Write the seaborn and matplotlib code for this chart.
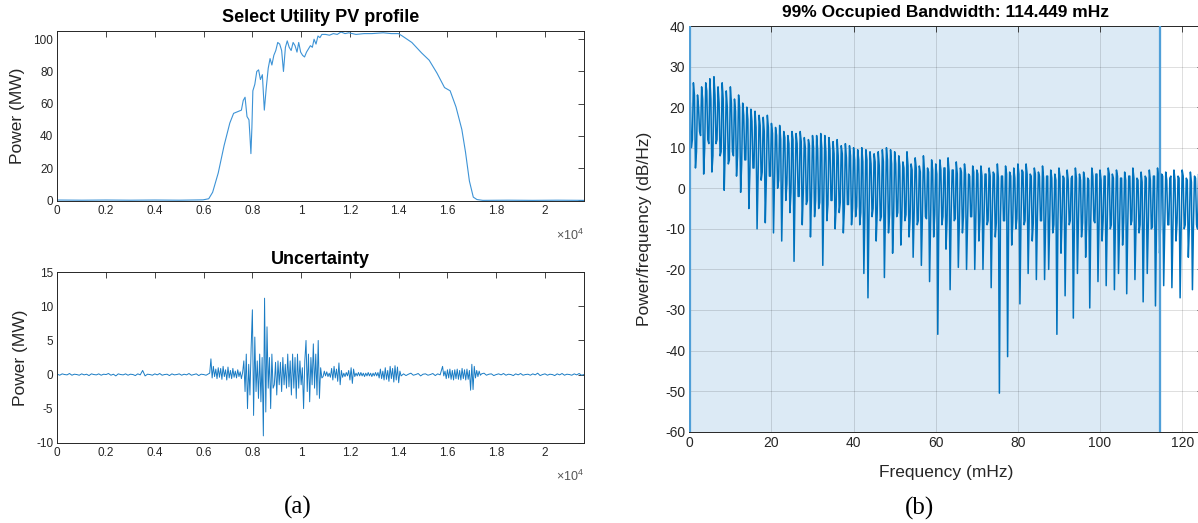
import numpy as np
import pandas as pd
import matplotlib
matplotlib.use("Agg")
import matplotlib.pyplot as plt
import seaborn as sns
from matplotlib.ticker import FuncFormatter

# ---------------- data ----------------
# Utility PV output (sample index, MW)
pv_sample = [0, 1000, 2000, 3000, 4000, 5000,
             5975, 6210, 6370, 6600, 6840,
             7075, 7230, 7390, 7550, 7625,
             7700, 7780, 7860, 7900, 7940,
             7980, 8020, 8100, 8180, 8255,
             8330, 8410, 8490, 8570, 8650,
             8725, 8800, 8880, 8960, 9040,
             9120, 9200, 9275, 9355, 9430,
             9510, 9590, 9670, 9750, 9830,
             9900, 9980, 10060, 10140, 10220,
             10300, 10380, 10460, 10530, 10610,
             10690, 10770, 10850, 11000, 11160,
             11320, 11480, 11635, 11800, 11950,
             12250, 12580, 12900, 13365, 13700,
             13990, 14150, 14540, 14940, 15250,
             15570, 15880, 16110, 16350, 16590,
             16740, 16900, 17060, 17210, 17450,
             18500, 19500, 20500, 21600]
pv_mw = [0.2, 0.1, 0.2, 0.1, 0.2, 0.1,
         0.3, 1, 5, 17, 34,
         48, 54, 55, 56, 62,
         64, 52, 50, 40, 29,
         45, 68, 72, 80, 81,
         75, 78, 56, 70, 82,
         88, 84, 90, 93, 98,
         97, 93, 80, 95, 99,
         95, 93, 98, 96, 92,
         98, 92, 90, 89, 92,
         94, 96, 95, 100, 97,
         102, 101, 103, 103, 102.5,
         103.5, 103, 104.5, 103.5, 104,
         103, 103.5, 103.5, 104, 103.5,
         103.5, 102, 98, 91.5, 87,
         79, 70, 68, 58, 44,
         30, 12, 2, 0.5, 0,
         0.1, 0, 0.1, 0]

# Forecast uncertainty, stored as evenly spaced segments (first sample, spacing, MW values)
unc_night_am = (0, 100, [0.05, -0.1, 0.1, 0.0, -0.05, 0.15, -0.1, 0.05, 0.0, -0.1,
                         0.1, -0.05, 0.05, -0.15, 0.1, 0.0, -0.05, 0.1, -0.1, 0.05,
                         0.0, 0.15, -0.1, 0.05, -0.2, 0.1, 0.0, -0.05, 0.1, -0.1,
                         0.05, 0.0, -0.15, 0.1, -0.05, 0.6, -0.2, 0.05, 0.0, -0.1,
                         0.1, -0.05, 0.15, -0.1, 0.0, 0.05, -0.15, 0.1, -0.05, 0.0,
                         0.1, -0.1, 0.05, -0.05, 0.15, -0.1, 0.0, 0.1, -0.15, 0.05,
                         0.0, -0.1, 0.1])
unc_morning = (6250, 50, [0.2, 2.3, -0.5, 1.2, -0.3, 0.8, -0.6, 1.0, -0.4, 0.9,
                          -0.7, 1.2, -0.3, 0.7, -0.8, 1.1, -0.5, 0.6, -0.6, 0.9,
                          -0.4, 0.5, -0.5, 0.7, -0.3, 0.4, -0.6, 0.3, 2.0, -2.5,
                          3.0, -5.0, 1.5, -3.0, 4.0, 9.5, -6.0, 5.5, -2.5, 2.0,
                          -3.5, 3.0, -4.0, 2.5, -9.0, 11.2, -5.5, 7.0, -2.0, 2.5,
                          -5.0, 3.0, -2.0, -1.5, 1.8, -3.0, 2.0, -1.5, 1.8, -2.5,
                          2.5, -1.5, 1.5, -2.0, 3.0, -1.8, 2.0, -3.0, 3.0, -2.0,
                          2.5, -3.5, 3.0, -2.0, 2.0, -1.5, 1.0, -5.0, 2.0, 5.0,
                          -2.5, 3.0, -4.0, 2.5, -1.5, 4.5, -2.0, 3.0, -3.0, 5.0,
                          -3.5, 1.0, -0.5])
unc_midday = (10900, 50, [-0.3, 0.5, -0.2, 0.4, -0.3, 0.2, -0.4, 0.9, -0.8, 1.2,
                          -0.5, 0.8, -1.0, 1.7, -1.5, 0.6, -0.4, 0.2, -0.3, 0.3,
                          -0.2, 0.6, -0.8, 1.0, -1.3, 0.8, -0.3, 0.2, -0.2, 0.3,
                          -0.2, 0.3, -0.2, 0.2, -0.3, 0.2, -0.2, 0.3, -0.2, 0.2,
                          -0.3, 0.2, -0.2, 0.3, -0.2, 0.3, -0.5, 0.8, -0.6, 0.5,
                          -0.8, 1.0, -0.7, 0.6, -1.0, 1.2, -0.6, 0.9, -1.1, 1.3,
                          -0.8, 1.1, -1.2, 0.5, -0.2])
unc_afternoon = (14200, 100, [0.1, -0.15, 0.05, 0.2, -0.1, 0.0, 0.15, -0.2, 0.05, 0.1,
                              -0.1, 0.0, 0.15, -0.15, 0.1, -0.05])
unc_evening = (15800, 50, [1.2, -0.2, 0.5, -0.6, 0.7, -0.5, 0.8, -0.7, 0.6, -0.8,
                           0.7, -0.6, 0.8, -0.7, 0.6, -0.8, 0.9, -0.6, 0.7, -0.8,
                           0.8, -0.7, 0.6, -2.3, 1.5, -2.2, 1.2, -0.5, 0.6, -0.3,
                           0.5, -0.1, 0.1])
unc_night_pm = (17500, 100, [0.2, -0.1, 0.05, 0.1, -0.15, 0.0, 0.1, -0.05, 0.15, -0.1,
                             0.05, 0.0, -0.15, 0.1, -0.05, 0.15, -0.1, 0.0, 0.05, -0.1,
                             0.1, -0.05, 0.2, -0.15, 0.0, 0.1, -0.1, 0.05, 0.0, -0.15,
                             0.1, -0.05, 0.15, -0.1, 0.05, 0.0, -0.1, 0.1, -0.05, 0.15,
                             -0.1, 0.0])

# Power spectral density (dB/Hz), four readings per mHz:
# peak at f, upper shoulder at f+0.25, trough at f+0.5, lower shoulder at f+0.75
psd_peak_db = [24, 26, 23, 25, 26, 27, 27.5, 25, 26, 24, 25,
               22, 23, 21, 20, 19.5, 19, 18, 17.5, 18, 16,
               15, 15.5, 14, 13, 14, 13.5, 14, 12.5, 12, 13,
               13, 13.5, 13, 12.5, 11.5, 12, 10.5, 11, 10.5, 10,
               9.5, 10, 9.5, 9, 8.5, 9, 9.5, 10, 9.5, 9,
               8, 6.5, 9, 6, 7.5, 5.5, 8, 5, 7, 6,
               7, 5, 7.5, 4.5, 6.5, 5, 6, 3.5, 5.5, 4.5,
               5.5, 3.5, 5, 4, 6, 3, 5.5, 4, 5, 6,
               4.5, 6, 3.5, 5, 4, 5.5, 3, 4.5, 3.5, 5,
               3, 4.5, 2.5, 5, 3.5, 4, 2.5, 5, 3.5, 4.5,
               3, 5, 3.5, 4.5, 2.5, 4, 3, 5, 2.5, 4,
               3, 4.5, 3, 5, 3.5, 4, 2.5, 4.5, 3, 4.5,
               2.5, 4, 3, 3.5, 2]
psd_upper_db = [21, 23, 20, 22, 24, 22, 23, 21, 22, 20, 21,
                19, 20, 18, 17, 16.5, 15, 15.5, 14, 15, 13.5,
                13, 12, 12.5, 11, 12, 11, 11.5, 10, 10.5, 10,
                9.5, 10, 9, 9.5, 8.5, 8, 8.5, 7.5, 8, 7,
                7, 6.5, 7, 6, 6.5, 5.5, 6.5, 7, 6, 6,
                5.5, 5, 5.5, 4.5, 5, 4, 4.5, 4, 4.5, 3.5,
                4.5, 5, 4, 4.5, 3.5, 4, 3.5, 3, 4, 3.5,
                3, 3.5, 3, 3.5, 2.5, 3, 3.5, 3, 2.5, 3.5,
                4, 3.5, 3, 3.5, 3, 2.5, 3, 2.5, 2, 3,
                2.5, 2, 3, 2.5, 2, 2.5, 2, 3, 3.5, 2,
                3, 3.5, 2.5, 3, 2.5, 2, 3, 2.5, 2, 1.5,
                2.5, 2, 3, 2.5, 3, 2, 3, 2, 2.5, 3,
                2, 1.5, 2.5, 2, 1.5]
psd_trough_db = [10, 5, 14, 3.5, 12, 4, 11, 8, -0.5, 6, 9,
                 3, -1, 7, -5, 5, -10, 2, -8.5, 3, -11,
                 0, -13, -3, -6, -18, -2, -9, -4, -12, -7,
                 -5, -19, -8, -3, -10, -6, -11, -4, -9, -7,
                 -9, -21, -27, -7, -13, -8, -22, -11, -16, -7,
                 -14, -8, -12, -17, -9, -19, -7, -23, -12, -36,
                 -9, -15, -25, -8, -19.5, -11, -20, -7, -20, -13,
                 -20, -9, -24.5, -12, -50.5, -8, -41.5, -14, -10, -28.5,
                 -9, -21, -13, -22.5, -8, -22.5, -20, -11, -36, -16,
                 -26.5, -9, -32, -21, -12, -17, -29.5, -8, -23, -13,
                 -24, -10, -25, -21, -14, -26, -9, -22.5, -11, -28,
                 -21, -10, -29, -16, -24, -9, -24.5, -13, -27, -10,
                 -17, -25, -9, -14, -12]
psd_lower_db = [12, 9, 13, 10, 11, 8, 12, 9, 10, 7, 8,
                8, 6, 7, 4, 5, 3, 4, 2, 3, 1.5,
                2, 0, 1, -1, 0, -2, -1, -3, -2, -3,
                -3.5, -2, -4, -3, -4.5, -3.5, -5, -4, -5, -4.5,
                -6, -5, -6.5, -5, -6, -7, -5.5, -6.5, -7, -6,
                -7, -6.5, -7.5, -6, -8, -7, -7.5, -8, -6.5, -7.5,
                -7, -8, -6.5, -7.5, -8, -7, -8.5, -7, -7.5, -8,
                -7.5, -8, -7, -8.5, -7.5, -8, -7, -8.5, -7.5, -8,
                -8, -7.5, -8.5, -7, -8, -8.5, -7.5, -9, -8, -7.5,
                -8.5, -8, -9, -7.5, -8.5, -9, -8, -8.5, -9, -8,
                -8.5, -9, -8, -9.5, -8.5, -9, -8, -9.5, -9, -8.5,
                -9, -9.5, -8.5, -9, -10, -9, -9.5, -8.5, -10, -9,
                -9.5, -9, -10, -9.5, -9]

obw_low_mhz = 0.25
obw_width_mhz = 114.449

# ---------------- assemble tables ----------------
pv_df = pd.DataFrame({"sample": pv_sample, "MW": pv_mw})

unc_parts = []
for start, step, vals in (unc_night_am, unc_morning, unc_midday,
                          unc_afternoon, unc_evening, unc_night_pm):
    unc_parts.append(pd.DataFrame({"sample": start + step * np.arange(len(vals)),
                                   "MW": vals}))
unc_df = pd.concat(unc_parts, ignore_index=True)

bins = np.arange(len(psd_peak_db))
psd_parts = []
for offset, vals in ((0.0, psd_peak_db), (0.25, psd_upper_db),
                     (0.5, psd_trough_db), (0.75, psd_lower_db)):
    psd_parts.append(pd.DataFrame({"mHz": bins + offset, "dB": vals}))
psd_df = pd.concat(psd_parts, ignore_index=True).sort_values("mHz")

# ---------------- style ----------------
sns.set_theme(style="white")
plt.rcParams["font.family"] = ["Liberation Sans", "DejaVu Sans"]
plt.rcParams["axes.unicode_minus"] = False
plt.rcParams["mathtext.fontset"] = "custom"
plt.rcParams["mathtext.rm"] = "Liberation Sans"
plt.rcParams["mathtext.it"] = "Liberation Sans"

W, H = 1198, 523
fig = plt.figure(figsize=(W / 100, H / 100), dpi=100)

def box(left, top, right, bottom):
    return [left / W, 1 - bottom / H, (right - left) / W, (bottom - top) / H]

INK = "#262626"
MLBLUE = "#0072BD"

def matlab_axes(ax, labelsize):
    for s in ax.spines.values():
        s.set_visible(True)
        s.set_color(INK)
        s.set_linewidth(0.7)
    ax.tick_params(direction="in", top=True, right=True, length=4, width=0.6,
                   color=INK, labelcolor=INK, labelsize=labelsize, pad=3)
    ax.set_xlabel("")
    ax.set_ylabel("")

# --- (a) top: PV profile ---
ax1 = fig.add_axes(box(57.3, 30.7, 584, 201))
sns.lineplot(data=pv_df, x="sample", y="MW", ax=ax1, color="#3d93d6",
             linewidth=0.8, estimator=None)
ax1.set_xlim(0, 21600)
ax1.set_ylim(-0.4, 105.3)
ax1.set_yticks(np.arange(0, 101, 20))

# --- (a) bottom: uncertainty ---
ax2 = fig.add_axes(box(57.3, 272.3, 584, 442.7))
sns.lineplot(data=unc_df, x="sample", y="MW", ax=ax2, color="#1a7cc4",
             linewidth=0.7, estimator=None)
ax2.set_xlim(0, 21600)
ax2.set_ylim(-10, 15)
ax2.set_yticks(np.arange(-10, 16, 5))

sci = FuncFormatter(lambda v, p: f"{v / 1e4:g}")
for ax in (ax1, ax2):
    ax.set_xticks(np.arange(0, 20001, 2000))
    ax.xaxis.set_major_formatter(sci)
    matlab_axes(ax, 8.5)
    ax.text(1.0, -0.2, r"$\times\mathregular{10^{4}}$", transform=ax.transAxes,
            ha="right", va="center", fontsize=9, color="#555555")

fig.text(320.6 / W, 1 - 17 / H, "Select Utility PV profile", ha="center",
         va="center", fontsize=13, fontweight="bold", color="black")
fig.text(320.6 / W, 1 - 259.5 / H, "Uncertainty", ha="center",
         va="center", fontsize=13, fontweight="bold", color="black")
fig.text(18 / W, 1 - 116 / H, "Power (MW)", rotation=90, ha="center",
         va="center", fontsize=12.5, color=INK)
fig.text(21 / W, 1 - 357.5 / H, "Power (MW)", rotation=90, ha="center",
         va="center", fontsize=12.5, color=INK)

# --- (b) PSD with occupied bandwidth ---
ax3 = fig.add_axes(box(689.3, 26, 1202.7, 431.7))
ax3.axvspan(obw_low_mhz, obw_low_mhz + obw_width_mhz, color="#dceaf5", zorder=0)
sns.lineplot(data=psd_df, x="mHz", y="dB", ax=ax3, color=MLBLUE,
             linewidth=1.1, estimator=None, sort=False, zorder=3)
for edge in (obw_low_mhz, obw_low_mhz + obw_width_mhz):
    ax3.axvline(edge, color="#4f9fd8", linewidth=1.6, zorder=4)
ax3.set_xlim(0, 125)
ax3.set_ylim(-60, 40)
ax3.set_xticks(np.arange(0, 121, 20))
ax3.set_yticks(np.arange(-60, 41, 10))
ax3.set_axisbelow("line")
ax3.grid(True, color="#000000", alpha=0.13, linewidth=0.7)
matlab_axes(ax3, 10)

fig.text(946 / W, 1 - 12 / H,
         f"99% Occupied Bandwidth: {obw_width_mhz:.3f} mHz", ha="center",
         va="center", fontsize=12.5, fontweight="bold", color="black")
fig.text(644 / W, 1 - 229 / H, "Power/frequency (dB/Hz)", rotation=90,
         ha="center", va="center", fontsize=12.5, color=INK)
fig.text(946 / W, 1 - 473 / H, "Frequency (mHz)", ha="center", va="center",
         fontsize=12.5, color=INK)

# panel tags
fig.text(298 / W, 1 - 507 / H, "(a)", ha="center", va="center",
         fontsize=18, family="Liberation Serif", color="black")
fig.text(920 / W, 1 - 508 / H, "(b)", ha="center", va="center",
         fontsize=18, family="Liberation Serif", color="black")

fig.savefig("out.png", dpi=100, facecolor="white")
